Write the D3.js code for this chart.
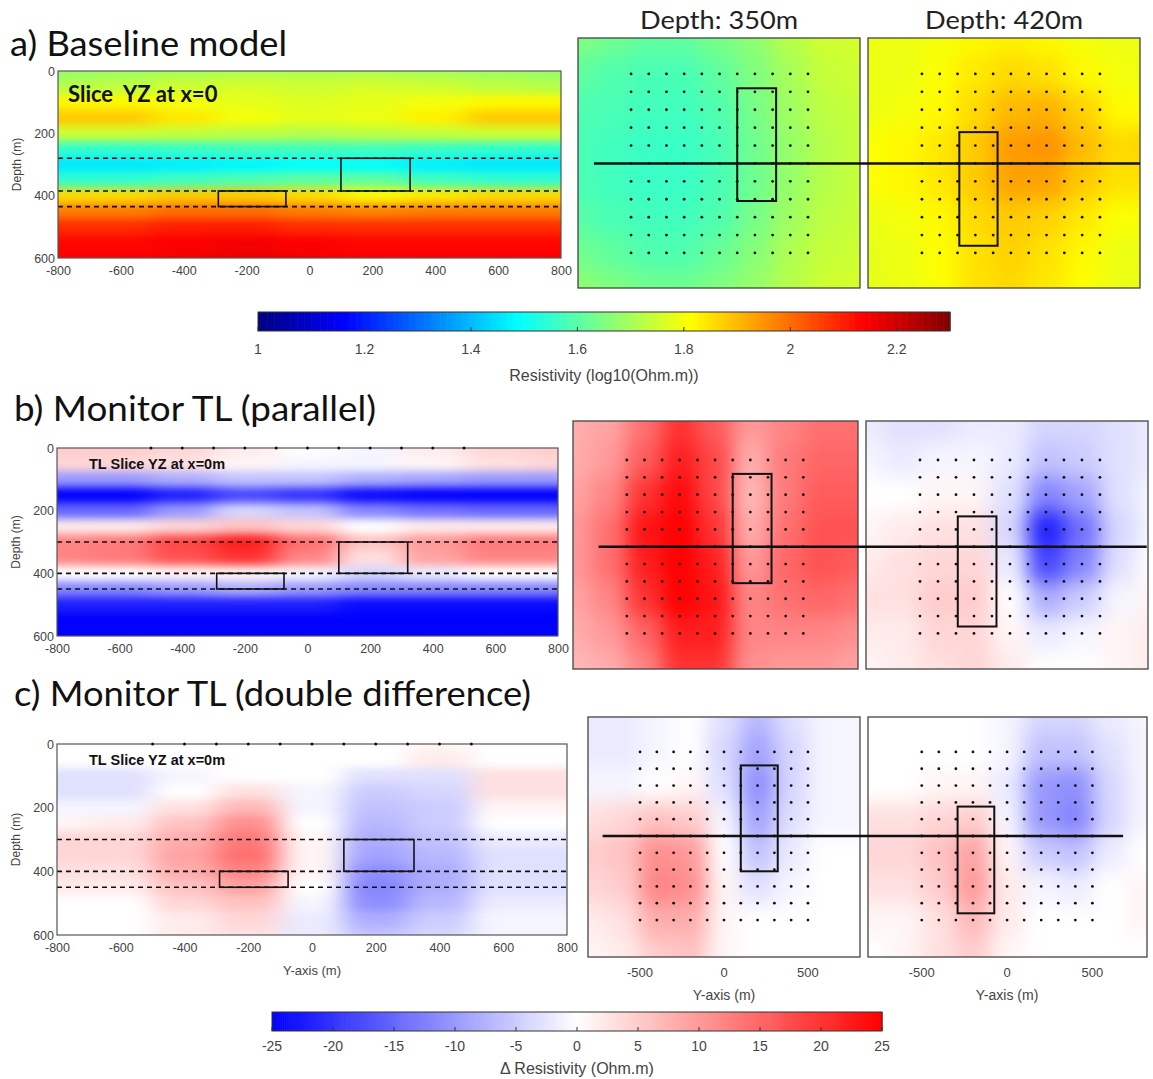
<!DOCTYPE html>
<html><head><meta charset="utf-8">
<script src="https://cdn.jsdelivr.net/npm/d3@7"></script>
<style>body{margin:0;background:#fff}svg{display:block}text{white-space:pre}</style>
</head><body>
<svg id="fig" width="1153" height="1079"></svg>
<script>
// ---------------- DATA ----------------
const sectionY = [-800,-600,-400,-200,0,200,400,600,800];
const sectionDepth = [0,50,100,150,200,250,300,350,400,450,500,550,600];
const mapY = [-800,-600,-400,-200,0,200,400,600,800];
const mapX = [700,500,300,100,-100,-300,-500,-700];
const yTicks = [-800,-600,-400,-200,0,200,400,600,800];
const depthTicks = [0,200,400,600];
const mapTicks = [-500,0,500];
const electrodes = [-500,-400,-300,-200,-100,0,100,200,300,400,500];
const resTicks = [1,1.2,1.4,1.6,1.8,2,2.2];
const dTicks = [-25,-20,-15,-10,-5,0,5,10,15,20,25];
const reservoirDepthsA = [280,385,435];
const reservoirDepthsBC = [300,400,450];
const box1 = {y:[100,320], x:[-210,420], dA:[280,385], d:[300,400]};
const box2 = {y:[-290,-75], x:[-460,175], dA:[385,435], d:[400,450]};

// baseline log10 resistivity, section YZ (rows = depth, cols = Y)
const baseSection = [
 [1.68,1.69,1.70,1.71,1.71,1.71,1.70,1.69,1.68],
 [1.72,1.73,1.75,1.76,1.75,1.76,1.75,1.73,1.72],
 [1.82,1.82,1.80,1.78,1.77,1.78,1.80,1.82,1.82],
 [1.88,1.88,1.84,1.80,1.78,1.79,1.83,1.88,1.88],
 [1.75,1.75,1.74,1.73,1.72,1.73,1.74,1.75,1.75],
 [1.55,1.55,1.56,1.57,1.57,1.57,1.56,1.55,1.55],
 [1.46,1.46,1.47,1.48,1.49,1.49,1.47,1.46,1.46],
 [1.55,1.55,1.57,1.59,1.61,1.61,1.57,1.55,1.55],
 [1.86,1.86,1.88,1.88,1.86,1.82,1.84,1.86,1.86],
 [1.98,1.98,2.00,2.00,1.98,1.97,1.98,1.98,1.98],
 [2.08,2.08,2.10,2.10,2.08,2.08,2.08,2.08,2.08],
 [2.13,2.13,2.14,2.15,2.14,2.13,2.13,2.13,2.13],
 [2.14,2.14,2.15,2.16,2.15,2.14,2.14,2.14,2.14]];
const baseMap350 = [
 [1.65,1.63,1.61,1.61,1.64,1.67,1.72,1.75,1.76],
 [1.61,1.59,1.58,1.58,1.61,1.65,1.70,1.74,1.75],
 [1.59,1.58,1.57,1.57,1.59,1.64,1.69,1.73,1.74],
 [1.58,1.57,1.56,1.56,1.58,1.63,1.68,1.72,1.74],
 [1.58,1.57,1.56,1.56,1.58,1.63,1.68,1.72,1.74],
 [1.60,1.58,1.57,1.57,1.59,1.64,1.69,1.73,1.74],
 [1.63,1.61,1.59,1.59,1.62,1.66,1.71,1.74,1.75],
 [1.67,1.65,1.63,1.63,1.65,1.68,1.72,1.75,1.76]];
const baseMap420 = [
 [1.79,1.79,1.80,1.82,1.83,1.82,1.80,1.79,1.79],
 [1.79,1.79,1.81,1.84,1.86,1.85,1.82,1.80,1.79],
 [1.79,1.80,1.82,1.86,1.90,1.91,1.87,1.82,1.81],
 [1.81,1.82,1.84,1.88,1.94,1.95,1.90,1.86,1.87],
 [1.81,1.82,1.84,1.88,1.93,1.93,1.88,1.85,1.85],
 [1.79,1.80,1.82,1.86,1.88,1.87,1.84,1.81,1.80],
 [1.78,1.79,1.81,1.85,1.87,1.85,1.82,1.79,1.79],
 [1.78,1.79,1.81,1.85,1.86,1.84,1.81,1.79,1.78]];

// time-lapse parallel (delta resistivity, Ohm.m)
const parSection = [
 [5,5,4,2,0,-1,2,4,5],
 [4,4,3,1,-1,-1,1,3,4],
 [-10,-10,-8,-6,-6,-8,-9,-10,-10],
 [-25,-25,-22,-18,-20,-24,-25,-25,-25],
 [-15,-15,-10,-4,-6,-12,-14,-15,-15],
 [2,2,4,6,4,0,2,2,2],
 [12,13,18,22,14,6,10,13,13],
 [12,13,17,20,12,3,9,12,12],
 [0,0,1,1,-1,-4,-2,0,0],
 [-12,-12,-10,-8,-10,-12,-12,-12,-12],
 [-22,-22,-22,-22,-22,-24,-24,-24,-24],
 [-25,-25,-25,-25,-25,-25,-25,-25,-25],
 [-25,-25,-25,-25,-25,-25,-25,-25,-25]];
const parMap350 = [
 [8,9,14,20,16,10,12,14,14],
 [8,10,16,22,18,8,13,15,15],
 [9,12,20,24,18,7,13,16,16],
 [10,14,23,25,20,8,14,17,17],
 [10,14,22,25,22,10,15,17,16],
 [9,12,20,25,23,12,14,15,14],
 [8,10,15,22,22,12,12,12,11],
 [7,8,12,20,20,11,10,10,9]];
const parMap420 = [
 [-2,-3,-3,-2,-2,-4,-4,-3,-2],
 [-1,-2,-1,-1,-2,-6,-5,-3,-2],
 [0,0,1,1,-3,-12,-9,-3,-1],
 [1,2,3,3,-4,-22,-14,-4,-1],
 [2,3,4,4,-2,-18,-12,-3,0],
 [3,3,5,5,0,-8,-5,-1,1],
 [2,2,4,4,1,-2,-1,1,2],
 [1,2,3,4,2,0,0,1,2]];

// time-lapse double difference
const ddSection = [
 [0,0,0,0,0,0,1,0,0],
 [0,0,0,0,0,0,2,0,0],
 [-3,-3,-1,0,0,-3,-3,3,3],
 [-3,-3,0,3,-1,-5,-4,3,3],
 [-1,-1,3,7,-1,-6,-5,1,1],
 [1,2,6,11,0,-7,-5,0,0],
 [4,4,8,13,1,-8,-6,-2,-2],
 [4,4,9,14,1,-9,-7,-3,-3],
 [3,3,8,12,1,-11,-8,-3,-3],
 [2,2,6,9,0,-12,-8,-3,-3],
 [0,0,4,6,-1,-11,-7,-2,-2],
 [0,0,2,4,-2,-8,-5,-1,-1],
 [0,0,2,3,-2,-6,-4,-1,-1]];
const ddMap350 = [
 [-2,-2,-1,0,-3,-7,-3,-1,-1],
 [-2,-2,-1,0,-4,-9,-4,-1,-1],
 [-1,-1,0,1,-3,-11,-4,-1,-1],
 [3,4,6,5,-1,-9,-3,-1,-1],
 [5,6,11,10,0,-6,-2,0,0],
 [4,5,12,11,1,-3,-1,0,0],
 [2,3,8,8,1,0,0,0,0],
 [1,2,5,6,1,0,0,0,0]];
const ddMap420 = [
 [0,0,0,0,-1,-4,-4,-2,-1],
 [0,0,0,0,-1,-6,-6,-3,-1],
 [0,0,1,1,-2,-10,-11,-4,-1],
 [3,3,4,5,-1,-10,-12,-4,-1],
 [4,4,6,9,1,-5,-6,-2,0],
 [3,3,5,10,2,-1,-2,0,1],
 [1,1,3,7,2,0,0,0,1],
 [0,1,3,5,1,0,0,0,0]];

// ---------------- COLOURS ----------------
function jet(t){
  const c = v => Math.max(0, Math.min(1, v));
  const r = c(1.5-Math.abs(4*t-3)), g = c(1.5-Math.abs(4*t-2)), b = c(1.5-Math.abs(4*t-1));
  return d3.rgb(r*255, g*255, b*255).toString();
}
const resNorm = d3.scaleLinear().domain([1,2.3]).range([0,1]).clamp(true);
const resColor = v => jet(resNorm(v));
const dColor = d3.scaleLinear().domain([-25,0,25]).range(["#0000ff","#ffffff","#ff0000"]).clamp(true);

// ---------------- SETUP ----------------
const svg = d3.select("#fig");
const defs = svg.append("defs");
function blurFilter(id, sx, sy){
  const f = defs.append("filter").attr("id", id).attr("x","-30%").attr("y","-30%").attr("width","160%").attr("height","160%")
    .attr("color-interpolation-filters","sRGB");
  f.append("feGaussianBlur").attr("stdDeviation", `${sx} ${sy}`).attr("edgeMode","duplicate");
}
blurFilter("blurSec", 13, 4);
blurFilter("blurMap", 10, 10);
let clipN = 0;
function clipUrl(x0,y0,x1,y1){
  const id = "clip"+(clipN++);
  defs.append("clipPath").attr("id", id).append("rect").attr("x",x0).attr("y",y0).attr("width",x1-x0).attr("height",y1-y0);
  return `url(#${id})`;
}
const tickFont = "'Liberation Sans', Arial, sans-serif";
const titleFont = "Lato, 'Open Sans', sans-serif";
const fmtInt = d => String(d);

function heat(g, xs, ys, grid, xs_, ys_, dx, dy, color, filterId){
  const cells = [];
  const nI = xs.length, nJ = ys.length;
  grid.forEach((row,j) => row.forEach((v,i) => {
    let a = xs[i]-dx/2, b = xs[i]+dx/2, c = ys[j]-dy/2, d = ys[j]+dy/2;
    if (i===0) a -= dx; if (i===nI-1) b += dx;
    if (j===0) c -= dy; if (j===nJ-1) d += dy;
    cells.push({a,b,c,d,v});
  }));
  g.append("g").attr("filter", `url(#${filterId})`)
   .selectAll("rect").data(cells).join("rect")
   .attr("x", d => Math.min(xs_(d.a), xs_(d.b)))
   .attr("y", d => Math.min(ys_(d.c), ys_(d.d)))
   .attr("width", d => Math.abs(xs_(d.b)-xs_(d.a))+0.6)
   .attr("height", d => Math.abs(ys_(d.d)-ys_(d.c))+0.6)
   .attr("fill", d => color(d.v));
}

function drawSection(cfg){
  const {x0,x1,y0,y1} = cfg;
  const x = d3.scaleLinear().domain([-800,800]).range([x0,x1]);
  const y = d3.scaleLinear().domain([0,600]).range([y0,y1]);
  const g = svg.append("g");
  const inner = g.append("g").attr("clip-path", clipUrl(x0,y0,x1,y1));
  heat(inner, sectionY, sectionDepth, cfg.data, x, y, 200, 50, cfg.color, "blurSec");
  g.selectAll("line.res").data(cfg.depths).join("line")
   .attr("x1", x(-800)).attr("x2", x(800)).attr("y1", d=>y(d)).attr("y2", d=>y(d))
   .attr("stroke","#111").attr("stroke-width",1.6).attr("stroke-dasharray","5,4");
  g.selectAll("rect.box").data(cfg.boxes).join("rect")
   .attr("x", d=>x(d.y[0])).attr("y", d=>y(d.dd[0]))
   .attr("width", d=>x(d.y[1])-x(d.y[0])).attr("height", d=>y(d.dd[1])-y(d.dd[0]))
   .attr("fill","none").attr("stroke","#111").attr("stroke-width",1.6);
  g.append("rect").attr("x",x0).attr("y",y0).attr("width",x1-x0).attr("height",y1-y0)
   .attr("fill","none").attr("stroke","#555").attr("stroke-width",1.2);
  if (cfg.electrodes){
    g.selectAll("circle.el").data(electrodes).join("circle")
     .attr("cx", d=>x(d)).attr("cy", y(0)).attr("r",1.5).attr("fill","#111");
  }
  const ax = g.append("g").attr("transform",`translate(0,${y1})`)
    .call(d3.axisBottom(x).tickValues(yTicks).tickSize(0).tickPadding(8).tickFormat(fmtInt));
  ax.select(".domain").remove();
  ax.selectAll("text").attr("font-family",tickFont).attr("font-size",12.5).attr("fill","#444");
  const ay = g.append("g").attr("transform",`translate(${x0},0)`)
    .call(d3.axisLeft(y).tickValues(depthTicks).tickSize(0).tickPadding(3).tickFormat(fmtInt));
  ay.select(".domain").remove();
  ay.selectAll("text").attr("font-family",tickFont).attr("font-size",12.5).attr("fill","#444");
  g.append("text").attr("transform",`translate(${x0-37},${(y0+y1)/2}) rotate(-90)`)
   .attr("text-anchor","middle").attr("font-family",tickFont).attr("font-size",12).attr("fill","#444").text("Depth (m)");
  g.append("text").attr("x", x0+cfg.labelDx).attr("y", y0+cfg.labelDy)
   .attr("font-family", cfg.labelFont).attr("font-weight","bold").attr("font-size", cfg.labelSize).attr("fill", "#111").text(cfg.label);
  if (cfg.xlabel){
    g.append("text").attr("x", x(0)).attr("y", y1+40).attr("text-anchor","middle")
     .attr("font-family",tickFont).attr("font-size",13).attr("fill","#444").text("Y-axis (m)");
  }
}

function drawMap(cfg){
  const {x0,x1,y0,y1} = cfg;
  const x = d3.scaleLinear().domain(cfg.yDom).range([x0,x1]);
  const y = d3.scaleLinear().domain(cfg.xDom).range([y0,y1]);
  const g = svg.append("g");
  const inner = g.append("g").attr("clip-path", clipUrl(x0,y0,x1,y1));
  heat(inner, mapY, mapX, cfg.data, x, y, 200, -200, cfg.color, "blurMap");
  const pts = [];
  electrodes.forEach(a => electrodes.forEach(b => pts.push([a,b])));
  g.selectAll("circle.dot").data(pts).join("circle")
   .attr("cx", d=>x(d[0])).attr("cy", d=>y(d[1])).attr("r",1.4).attr("fill","#111");
  const b = cfg.box;
  g.append("rect").attr("x", x(b.y[0])).attr("y", y(b.x[1]))
   .attr("width", x(b.y[1])-x(b.y[0])).attr("height", y(b.x[0])-y(b.x[1]))
   .attr("fill","none").attr("stroke","#111").attr("stroke-width",2);
  g.append("rect").attr("x",x0).attr("y",y0).attr("width",x1-x0).attr("height",y1-y0)
   .attr("fill","none").attr("stroke","#444").attr("stroke-width",1.3);
  if (cfg.ticks){
    g.selectAll("text.tk").data(mapTicks).join("text")
     .attr("x", d=>x(d)).attr("y", y1+20).attr("text-anchor","middle")
     .attr("font-family",tickFont).attr("font-size",13).attr("fill","#444").text(fmtInt);
    g.append("text").attr("x", x(0)).attr("y", y1+43).attr("text-anchor","middle")
     .attr("font-family",tickFont).attr("font-size",14).attr("fill","#444").text("Y-axis (m)");
  }
  if (cfg.title){
    g.append("text").attr("x", (x0+x1)/2).attr("y", y0-9).attr("text-anchor","middle")
     .attr("font-family",titleFont).attr("font-size",25).attr("textLength",158).attr("lengthAdjust","spacingAndGlyphs")
     .attr("fill","#222").text(cfg.title);
  }
  return {x,y};
}

function profile(m1, m2, yStart, yEnd){
  svg.append("line").attr("x1", m1.x(yStart)).attr("x2", m2.x(yEnd))
   .attr("y1", m1.y(0)).attr("y2", m1.y(0)).attr("stroke","#111").attr("stroke-width",2.6);
}

function colorbar(cfg){
  const x = d3.scaleLinear().domain(cfg.domain).range([cfg.x0,cfg.x1]);
  const g = svg.append("g");
  const n = 300;
  const steps = d3.range(n).map(i => cfg.domain[0] + (cfg.domain[1]-cfg.domain[0])*(i+0.5)/n);
  const w = (cfg.x1-cfg.x0)/n;
  g.selectAll("rect.cb").data(steps).join("rect")
   .attr("x", d=>x(d)-w/2).attr("y", cfg.y0).attr("width", w+0.6).attr("height", cfg.y1-cfg.y0)
   .attr("fill", d=>cfg.color(d));
  g.append("rect").attr("x",cfg.x0).attr("y",cfg.y0).attr("width",cfg.x1-cfg.x0).attr("height",cfg.y1-cfg.y0)
   .attr("fill","none").attr("stroke","#333").attr("stroke-width",1);
  g.selectAll("line.tk").data(cfg.ticks).join("line")
   .attr("x1", d=>x(d)).attr("x2", d=>x(d)).attr("y1", cfg.y1-4).attr("y2", cfg.y1)
   .attr("stroke","#333").attr("stroke-width",1);
  g.selectAll("text.tk").data(cfg.ticks).join("text")
   .attr("x", d=>x(d)).attr("y", cfg.y1+cfg.tickDy).attr("text-anchor","middle")
   .attr("font-family",tickFont).attr("font-size",14).attr("fill","#444").text(d=>cfg.fmt(d));
  g.append("text").attr("x", (cfg.x0+cfg.x1)/2).attr("y", cfg.y1+cfg.labelDy).attr("text-anchor","middle")
   .attr("font-family",tickFont).attr("font-size",16).attr("fill","#444").text(cfg.label);
}

// ---------------- TITLES ----------------
const titles = [
  {t:"a) Baseline model", x:10, y:56, w:277},
  {t:"b) Monitor TL (parallel)", x:14, y:421, w:362},
  {t:"c) Monitor TL (double difference)", x:14, y:706, w:517}];
svg.selectAll("text.ttl").data(titles).join("text")
  .attr("x", d=>d.x).attr("y", d=>d.y).attr("font-family",titleFont).attr("font-size",34)
  .attr("textLength", d=>d.w).attr("lengthAdjust","spacingAndGlyphs")
  .attr("fill","#111").text(d=>d.t);

// ---------------- PANEL A ----------------
drawSection({x0:58,x1:561,y0:71,y1:258, data:baseSection, color:resColor, depths:reservoirDepthsA,
  boxes:[{y:box1.y, dd:box1.dA},{y:box2.y, dd:box2.dA}], electrodes:false,
  label:"Slice  YZ at x=0", labelDx:10, labelDy:31, labelSize:22, labelFont:titleFont});
const a1 = drawMap({x0:578,x1:860,y0:38,y1:288, yDom:[-800,794], xDom:[701,-696], data:baseMap350, color:resColor, box:box1, title:"Depth: 350m"});
const a2 = drawMap({x0:868,x1:1140,y0:38,y1:288, yDom:[-803,725], xDom:[701,-696], data:baseMap420, color:resColor, box:box2, title:"Depth: 420m"});
profile(a1, a2, -710, 725);
colorbar({x0:258,x1:950,y0:312,y1:331, domain:[1,2.3], color:resColor, ticks:resTicks, fmt:fmtInt, tickDy:23, labelDy:50, label:"Resistivity (log10(Ohm.m))"});

// ---------------- PANEL B ----------------
drawSection({x0:57,x1:558,y0:448,y1:636, data:parSection, color:dColor, depths:reservoirDepthsBC,
  boxes:[{y:box1.y, dd:box1.d},{y:box2.y, dd:box2.d}], electrodes:true,
  label:"TL Slice YZ at x=0m", labelDx:32, labelDy:21, labelSize:14.5, labelFont:tickFont});
const b1 = drawMap({x0:573,x1:858,y0:421,y1:669, yDom:[-805,810], xDom:[725,-705], data:parMap350, color:dColor, box:box1});
const b2 = drawMap({x0:866,x1:1148,y0:421,y1:669, yDom:[-800,767], xDom:[725,-705], data:parMap420, color:dColor, box:box2});
profile(b1, b2, -660, 760);

// ---------------- PANEL C ----------------
drawSection({x0:57,x1:567,y0:744,y1:935, data:ddSection, color:dColor, depths:reservoirDepthsBC,
  boxes:[{y:box1.y, dd:box1.d},{y:box2.y, dd:box2.d}], electrodes:true, xlabel:true,
  label:"TL Slice YZ at x=0m", labelDx:32, labelDy:21, labelSize:14.5, labelFont:tickFont});
const c1 = drawMap({x0:588,x1:860,y0:717,y1:957, yDom:[-810,810], xDom:[708,-720], data:ddMap350, color:dColor, box:box1, ticks:true});
const c2 = drawMap({x0:868,x1:1147,y0:717,y1:957, yDom:[-815,820], xDom:[708,-720], data:ddMap420, color:dColor, box:box2, ticks:true});
profile(c1, c2, -723, 680);
colorbar({x0:272,x1:882,y0:1012,y1:1031, domain:[-25,25], color:dColor, ticks:dTicks, fmt:fmtInt, tickDy:20, labelDy:43, label:"\u0394 Resistivity (Ohm.m)"});
</script>
</body></html>
